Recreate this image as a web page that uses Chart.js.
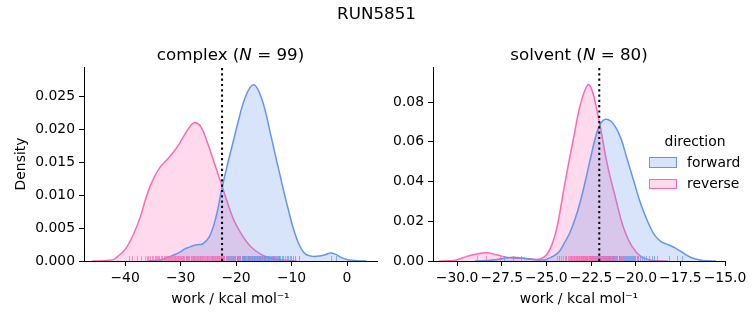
<!DOCTYPE html>
<html>
<head>
<meta charset="utf-8">
<script src="https://cdn.jsdelivr.net/npm/chart.js@4.4.1/dist/chart.umd.min.js"></script>
<style>
  body { margin: 0; background: #fff; }
  #fig { position: relative; width: 753px; height: 325px; overflow: hidden;
         font-family: "DejaVu Sans", sans-serif; color: #000; }
  #fig canvas { position: absolute; top: 0; }
  .txt { position: absolute; white-space: nowrap; }
  .patch { position: absolute; box-sizing: border-box; width: 28px; height: 10.5px; border: 1.5px solid; }
</style>
</head>
<body>
<div id="fig">
  <canvas id="complexChart" width="390" height="325" style="left:0"></canvas>
  <canvas id="solventChart" width="363" height="325" style="left:390px"></canvas>

  <div class="txt" style="left:0;width:753px;top:3px;text-align:center;font-size:16.7px;line-height:20px">RUN5851</div>
  <div class="txt" id="complexTitle" style="left:80.5px;width:300px;top:44px;text-align:center;font-size:16.7px;line-height:20px"></div>
  <div class="txt" id="solventTitle" style="left:429px;width:300px;top:44px;text-align:center;font-size:16.7px;line-height:20px"></div>

  <div class="txt" style="left:640px;width:110px;top:133px;text-align:center;font-size:13.9px;line-height:17px">direction</div>
  <div class="patch" style="left:649px;top:157px;border-color:#6495ED;background:rgba(100,149,237,0.25)"></div>
  <div class="txt" style="left:687px;top:153.5px;font-size:13.9px;line-height:17px">forward</div>
  <div class="patch" style="left:649px;top:178.5px;border-color:#FF69B4;background:rgba(255,105,180,0.25)"></div>
  <div class="txt" style="left:687px;top:175px;font-size:13.9px;line-height:17px">reverse</div>
</div>

<script>
// ---- complex leg: work values (kcal/mol) per direction ----
const complexForward = [
  -31.0, -28.9, -27.6, -26.5, -25.3, -24.4,
  -23.8, -23.4, -23.0, -22.7, -22.4, -22.1,
  -21.9, -21.7, -21.5, -21.3, -21.1, -20.9, -20.7, -20.5, -20.4, -20.2, -20.1,
  -19.9, -19.8, -19.6, -19.5, -19.3, -19.2, -19.0, -18.9, -18.8, -18.7, -18.6, -18.5, -18.4, -18.3, -18.2, -18.1,
  -17.9, -17.8, -17.7, -17.6, -17.5, -17.4, -17.3, -17.2, -17.1, -16.9, -16.8, -16.7, -16.6, -16.5, -16.4, -16.3, -16.2, -16.1,
  -15.9, -15.8, -15.7, -15.6, -15.5, -15.4, -15.3, -15.2, -15.0, -14.9, -14.8, -14.7, -14.6, -14.5, -14.3, -14.2, -14.1,
  -13.9, -13.7, -13.6, -13.4, -13.3, -13.1, -12.9, -12.8, -12.6, -12.5, -12.3, -12.2, -12.1,
  -11.8, -11.5, -11.2, -10.9, -10.6, -10.3, -10.1,
  -9.8, -9.3, -8.6,
  -2.9, -2.0
];
const complexReverse = [
  -39.3, -38.7,
  -37.9, -37.1, -36.4, -36.1,
  -35.8, -35.5, -35.1, -34.9, -34.6, -34.4, -34.2, -34.0,
  -33.8, -33.5, -33.3, -33.0, -32.8, -32.6, -32.4, -32.2, -32.1,
  -31.9, -31.7, -31.5, -31.3, -31.1, -30.9, -30.7, -30.5, -30.4, -30.2, -30.1,
  -29.9, -29.8, -29.6, -29.5, -29.3, -29.1, -29.0, -28.8, -28.7, -28.5, -28.4, -28.2, -28.1,
  -27.9, -27.8, -27.7, -27.5, -27.4, -27.3, -27.1, -27.0, -26.8, -26.7, -26.5, -26.4, -26.2, -26.1,
  -25.9, -25.7, -25.6, -25.4, -25.2, -25.0, -24.9, -24.7, -24.5, -24.3, -24.2, -24.1,
  -23.9, -23.7, -23.5, -23.3, -23.1, -22.9, -22.7, -22.5, -22.3, -22.1,
  -21.8, -21.5, -21.2, -20.9, -20.6, -20.4, -20.1,
  -19.7, -19.2, -18.8, -18.3,
  -17.5, -16.6, -15.4, -14.5, -13.2
];

// ---- solvent leg: work values (kcal/mol) per direction ----
const solventForward = [
  -27.4, -26.85,
  -24.3, -23.9, -23.6,
  -23.45, -23.3, -23.15, -23.05,
  -22.95, -22.85, -22.75, -22.7, -22.62, -22.55, -22.51,
  -22.47, -22.42, -22.37, -22.32, -22.27, -22.22, -22.17, -22.12, -22.07, -22.02,
  -21.97, -21.93, -21.89, -21.85, -21.81, -21.77, -21.73, -21.69, -21.65, -21.6, -21.56, -21.52,
  -21.47, -21.43, -21.38, -21.34, -21.29, -21.25, -21.2, -21.15, -21.1, -21.06, -21.02,
  -20.96, -20.91, -20.86, -20.8, -20.75, -20.7, -20.65, -20.6, -20.55, -20.51,
  -20.45, -20.39, -20.33, -20.27, -20.2, -20.14, -20.08, -20.02,
  -19.94, -19.85, -19.75, -19.65, -19.55,
  -19.4, -19.25, -19.1, -18.95, -18.8,
  -18.15, -17.7, -17.4
];
const solventReverse = [
  -28.9, -28.4, -27.6, -26.4,
  -24.4, -24.2, -24.05,
  -23.95, -23.9, -23.8, -23.75, -23.7, -23.62, -23.55, -23.52,
  -23.48, -23.44, -23.4, -23.36, -23.32, -23.28, -23.24, -23.2, -23.16, -23.12, -23.08, -23.04, -23.01,
  -22.98, -22.95, -22.92, -22.89, -22.86, -22.83, -22.8, -22.77, -22.74, -22.7, -22.67, -22.63, -22.6, -22.57, -22.54, -22.51,
  -22.47, -22.44, -22.4, -22.37, -22.33, -22.3, -22.26, -22.22, -22.19, -22.15, -22.12, -22.08, -22.05, -22.02,
  -21.97, -21.92, -21.88, -21.83, -21.78, -21.73, -21.68, -21.63, -21.58, -21.53,
  -21.45, -21.38, -21.3, -21.22, -21.14, -21.06,
  -20.9, -20.75, -20.6, -20.4, -20.15, -19.85
];

// ---- kernel density curves (x in kcal/mol, y = density) ----
const complexForwardKdeX = [-36, -34, -33, -32.2, -31.2, -30.2, -29.3, -28.4, -27.5, -26.7, -26, -24.8, -23.6, -22.6, -21.5, -20.3, -19.8, -18.3, -16.8, -15.3, -13.8, -12.3, -10.7, -9.2, -7.7, -6.2, -4.7, -3.8, -2.9, -2.0, -1.4, 0.1, 1.9, 3.5];
const complexForwardKdeY = [0, 0.0001, 0.0003, 0.0006, 0.0009, 0.0013, 0.0018, 0.0021, 0.0024, 0.0025, 0.0026, 0.0037, 0.0067, 0.0108, 0.0148, 0.0188, 0.0205, 0.0249, 0.0267, 0.0244, 0.0193, 0.0138, 0.0082, 0.0037, 0.0012, 0.0007, 0.0008, 0.0010, 0.0012, 0.0010, 0.0007, 0.0002, 0.00005, 0];
const complexReverseKdeX = [-46, -44, -43, -42, -41.4, -40.5, -39.6, -38.4, -37.2, -36.3, -35.4, -34.5, -33.6, -32.5, -31.2, -30.2, -29.3, -28.1, -27.4, -26.3, -25.1, -23.9, -22.7, -21, -20.3, -19.2, -18, -17, -15.5, -14, -12, -10, -9];
const complexReverseKdeY = [0, 0.00005, 0.0001, 0.00025, 0.00066, 0.0013, 0.0022, 0.0042, 0.0068, 0.0094, 0.0115, 0.0131, 0.0143, 0.0153, 0.0166, 0.0178, 0.0191, 0.0206, 0.0210, 0.0203, 0.0178, 0.0148, 0.0118, 0.0075, 0.0060, 0.0043, 0.0028, 0.0019, 0.0010, 0.0005, 0.0002, 0.00005, 0];

const solventForwardKdeX = [-29, -28.6, -28, -27.6, -27.2, -26.9, -26.5, -26.1, -25.7, -25.4, -25, -24.6, -24.3, -24.0, -23.7, -23.4, -23.1, -22.8, -22.5, -22.2, -21.95, -21.7, -21.4, -21.1, -20.8, -20.5, -20.1, -19.8, -19.5, -19.2, -18.9, -18.6, -18.3, -18.05, -17.8, -17.5, -17.2, -16.9, -16.4, -16, -15.5];
const solventForwardKdeY = [0, 0.0001, 0.0005, 0.0010, 0.0016, 0.0019, 0.0017, 0.0011, 0.0007, 0.0005, 0.0008, 0.0025, 0.0045, 0.0090, 0.0140, 0.0210, 0.0300, 0.0410, 0.0530, 0.0640, 0.0695, 0.0714, 0.0705, 0.0670, 0.0610, 0.0520, 0.0400, 0.0310, 0.0235, 0.0173, 0.0125, 0.0099, 0.0086, 0.0077, 0.0066, 0.0050, 0.0032, 0.0018, 0.0005, 0.0001, 0];
const solventReverseKdeX = [-31, -30.5, -30.05, -29.5, -28.9, -28.4, -27.8, -27.25, -26.7, -26.1, -25.6, -25.3, -25, -24.7, -24.4, -24, -23.5, -23.03, -22.6, -22.1, -21.6, -21.1, -20.7, -20.2, -19.7, -19.2, -18.7, -18.2];
const solventReverseKdeY = [0, 0.0001, 0.0005, 0.0022, 0.0035, 0.0042, 0.0032, 0.0019, 0.0014, 0.0013, 0.0008, 0.0012, 0.0030, 0.0080, 0.0173, 0.0375, 0.0610, 0.0810, 0.0887, 0.0727, 0.0490, 0.0307, 0.0173, 0.0072, 0.0022, 0.0005, 0.0001, 0];

// ---- free-energy estimate marked by the dotted line ----
const complexEstimate = -22.52;
const solventEstimate = -22.04;

// ---- tick values ----
const complexTicksX = [-40, -30, -20, -10, 0];
const complexTicksY = [0, 0.005, 0.010, 0.015, 0.020, 0.025];
const solventTicksX = [-30, -27.5, -25, -22.5, -20, -17.5, -15];
const solventTicksY = [0, 0.02, 0.04, 0.06, 0.08];

// ---- drawing ----
const FONT = '"DejaVu Sans", sans-serif';
const BLUE = '#6495ED', BLUE_FILL = 'rgba(100,149,237,0.25)', BLUE_RUG = 'rgba(100,149,237,0.7)';
const PINK = '#FF69B4', PINK_FILL = 'rgba(255,105,180,0.25)', PINK_RUG = 'rgba(255,105,180,0.7)';

document.getElementById('complexTitle').innerHTML = 'complex (<i>N</i> = ' + complexForward.length + ')';
document.getElementById('solventTitle').innerHTML = 'solvent (<i>N</i> = ' + solventForward.length + ')';

const fmt = (v, dec) => v.toFixed(dec).replace('-', '\u2212');

// rug ticks along the bottom, drawn under the dotted marker line
const rugPlugin = {
  id: 'rug',
  beforeDatasetDraw(chart, args, opts) {
    if (args.index !== 0) return;
    const { ctx, chartArea } = chart;
    const xs = chart.scales.x;
    ctx.save();
    ctx.lineWidth = 1;
    for (const set of opts.sets) {
      ctx.strokeStyle = set.color;
      for (const v of set.values) {
        const px = Math.round(xs.getPixelForValue(v)) + 0.5;
        ctx.beginPath();
        ctx.moveTo(px, chartArea.bottom);
        ctx.lineTo(px, chartArea.bottom - opts.height);
        ctx.stroke();
      }
    }
    ctx.restore();
  }
};

function kdeSet(xs, ys, color, fill) {
  return {
    data: xs.map((x, i) => ({ x: x, y: ys[i] })),
    borderColor: color, backgroundColor: fill, fill: 'origin',
    borderWidth: 1.5, pointRadius: 0, tension: 0.4
  };
}

function axisCommon(ticks, dec) {
  return {
    type: 'linear',
    afterBuildTicks: s => { s.ticks = ticks.map(v => ({ value: v })); },
    ticks: { callback: v => fmt(v, dec), font: { family: FONT, size: 13.9 }, color: '#000',
             padding: 4, autoSkip: false, maxRotation: 0 },
    grid: { drawOnChartArea: false, drawTicks: true, tickLength: 5, color: '#000', lineWidth: 1 },
    border: { display: true, color: '#000', width: 1 }
  };
}

function kdeChart(id, c) {
  const x = Object.assign(axisCommon(c.ticksX, c.decX), {
    min: c.xMin, max: c.xMax,
    afterFit: s => { s.height = 64; },
    title: { display: true, text: 'work / kcal mol\u207B\u00B9', color: '#000',
             font: { family: FONT, size: 13.9 }, padding: { top: 0, bottom: 17.7 } }
  });
  const y = Object.assign(axisCommon(c.ticksY, c.decY), {
    min: 0, max: c.yMax,
    afterFit: s => { s.width = c.yWidth; },
    title: { display: !!c.yTitle, text: c.yTitle || '', color: '#000',
             font: { family: FONT, size: 13.9 }, padding: { top: 12.7, bottom: 0 } }
  });
  return new Chart(document.getElementById(id), {
    type: 'line',
    data: {
      datasets: [
        { data: [{ x: c.marker, y: 0 }, { x: c.marker, y: c.yMax }], borderColor: '#000',
          borderWidth: 2, borderDash: [2.2, 3.1], pointRadius: 0, fill: false },
        kdeSet(c.fx, c.fy, BLUE, BLUE_FILL),
        kdeSet(c.rx, c.ry, PINK, PINK_FILL)
      ]
    },
    options: {
      responsive: false, animation: false, events: [],
      layout: { padding: { top: 67, right: c.padRight, bottom: 0, left: 0 } },
      plugins: {
        legend: { display: false }, tooltip: { enabled: false },
        rug: { height: 5, sets: [
          { values: c.forward, color: BLUE_RUG },
          { values: c.reverse, color: PINK_RUG }
        ] }
      },
      scales: { x: x, y: y }
    },
    plugins: [rugPlugin]
  });
}

kdeChart('complexChart', {
  xMin: -47.4, xMax: 5.4, yMax: 0.0294, ticksX: complexTicksX, ticksY: complexTicksY,
  decX: 0, decY: 3, yWidth: 84, padRight: 13, yTitle: 'Density',
  marker: complexEstimate,
  fx: complexForwardKdeX, fy: complexForwardKdeY, rx: complexReverseKdeX, ry: complexReverseKdeY,
  forward: complexForward, reverse: complexReverse
});

kdeChart('solventChart', {
  xMin: -31.35, xMax: -15, yMax: 0.0977, ticksX: solventTicksX, ticksY: solventTicksY,
  decX: 1, decY: 2, yWidth: 43, padRight: 28, yTitle: '',
  marker: solventEstimate,
  fx: solventForwardKdeX, fy: solventForwardKdeY, rx: solventReverseKdeX, ry: solventReverseKdeY,
  forward: solventForward, reverse: solventReverse
});
</script>
</body>
</html>
